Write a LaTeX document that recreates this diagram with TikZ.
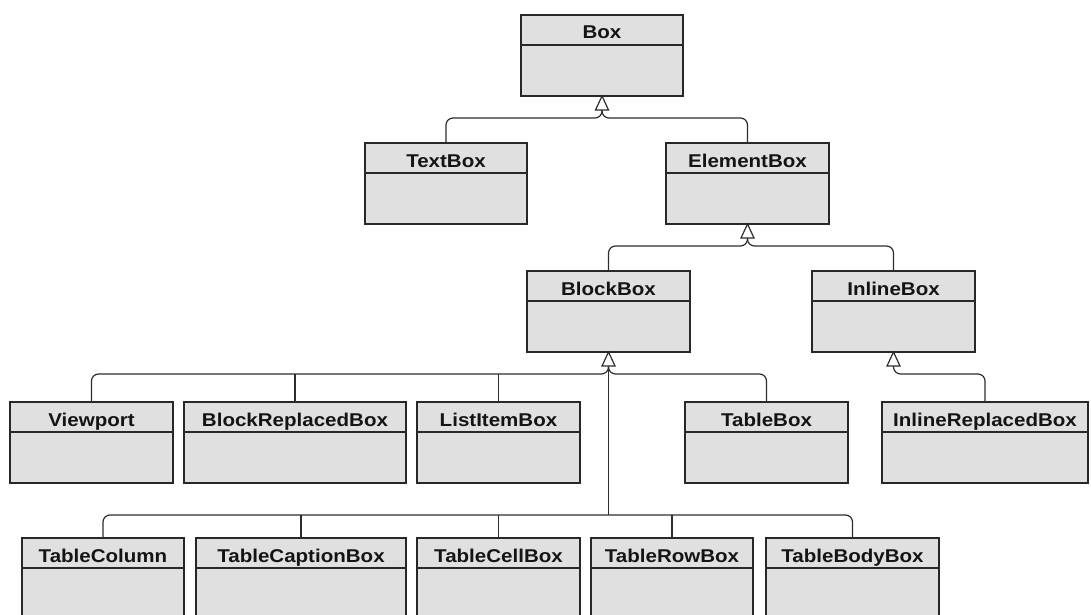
\documentclass[tikz,border=0pt]{standalone}
\usepackage{fontspec}
\newfontfamily\lblfont{Liberation Sans}[FakeStretch=1.11]
\usetikzlibrary{calc}
\definecolor{boxfill}{RGB}{224,224,224}
\definecolor{boxline}{RGB}{40,40,40}
\definecolor{connline}{RGB}{45,45,45}
\definecolor{txt}{RGB}{20,20,20}
\tikzset{
  umlrect/.style={draw=boxline, fill=boxfill, line width=1.2pt, inner sep=0pt, outer sep=0pt, minimum height=81pt, rectangle},
  headline/.style={draw=boxline, line width=1.1pt},
  umltext/.style={inner sep=0pt, text=txt, font=\lblfont\bfseries\fontsize{18.5}{22}\selectfont},
  conn/.style={draw=connline, line width=1.2pt, rounded corners=7pt},
  connsharp/.style={draw=connline, line width=1.2pt},
  tri/.style={draw=connline, fill=white, line width=1.2pt, line join=miter},
}
\newcommand\umlbox[5]{%
  \node[umlrect, minimum width=#4pt, anchor=north west] (#1) at (#2pt,-#3pt) {};
  \draw[headline] ([yshift=-30pt]#1.north west) -- ([yshift=-30pt]#1.north east);
  \node[umltext, anchor=base] (#1-t) at ([yshift=-24pt]#1.north) {#5};
}
\newcommand\inhtri[1]{%
  \coordinate (#1-b) at ([yshift=-14pt]#1.south);
  \coordinate (#1-j) at ([yshift=-22pt]#1.south);
}
\newcommand\drawtri[1]{%
  \draw[tri] (#1.south) -- ++(-6.5pt,-14pt) -- ++(13pt,0pt) -- cycle;
}
\begin{document}
\begin{tikzpicture}
\useasboundingbox (0,0) rectangle (1091pt,-615pt);
\clip (0,0) rectangle (1091pt,-615pt);
% row 1
\umlbox{box}{521}{15}{162}{Box}
% row 2
\umlbox{textbox}{365}{143}{162}{TextBox}
\umlbox{elementbox}{666}{143}{163}{ElementBox}
% row 3
\umlbox{blockbox}{527}{271}{163}{BlockBox}
\umlbox{inlinebox}{812}{271}{163}{InlineBox}
% row 4
\umlbox{viewport}{10}{402}{163}{Viewport}
\umlbox{blockreplaced}{184}{402}{222}{BlockReplacedBox}
\umlbox{listitem}{417}{402}{163}{ListItemBox}
\umlbox{tablebox}{685}{402}{163}{TableBox}
\umlbox{inlinereplaced}{882}{402}{206}{InlineReplacedBox}
% row 5
\umlbox{tablecolumn}{22}{538}{162}{TableColumn}
\umlbox{tablecaption}{196}{538}{210}{TableCaptionBox}
\umlbox{tablecell}{417}{538}{163}{TableCellBox}
\umlbox{tablerow}{591}{538}{162}{TableRowBox}
\umlbox{tablebody}{766}{538}{173}{TableBodyBox}

\inhtri{box}
\inhtri{elementbox}
\inhtri{blockbox}
\inhtri{inlinebox}
\coordinate (blockbox-j2) at ([yshift=-163pt]blockbox.south);

% Box <- TextBox, ElementBox
\draw[conn] (textbox.north) |- (box-j) -- (box-b);
\draw[conn] (elementbox.north) |- (box-j) -- (box-b);
% ElementBox <- BlockBox, InlineBox
\draw[conn] (blockbox.north) |- (elementbox-j) -- (elementbox-b);
\draw[conn] (inlinebox.north) |- (elementbox-j) -- (elementbox-b);
% BlockBox <- row 4
\draw[conn] (viewport.north) |- (blockbox-j) -- (blockbox-b);
\draw[conn] (tablebox.north) |- (blockbox-j) -- (blockbox-b);
\draw[connsharp] (blockreplaced.north) -- (blockreplaced.north |- blockbox-j);
\draw[connsharp] (listitem.north) -- (listitem.north |- blockbox-j);
\draw[connsharp] (blockbox-j2) -- (blockbox-b);
% BlockBox <- row 5
\draw[conn] (tablecolumn.north) |- (blockbox-j2);
\draw[conn] (tablebody.north) |- (blockbox-j2);
\draw[connsharp] (tablecaption.north) -- (tablecaption.north |- blockbox-j2);
\draw[connsharp] (tablecell.north) -- (tablecell.north |- blockbox-j2);
\draw[connsharp] (tablerow.north) -- (tablerow.north |- blockbox-j2);
% InlineBox <- InlineReplacedBox
\draw[conn] (inlinereplaced.north) |- (inlinebox-j) -- (inlinebox-b);

\drawtri{box}
\drawtri{elementbox}
\drawtri{blockbox}
\drawtri{inlinebox}
\end{tikzpicture}
\end{document}
